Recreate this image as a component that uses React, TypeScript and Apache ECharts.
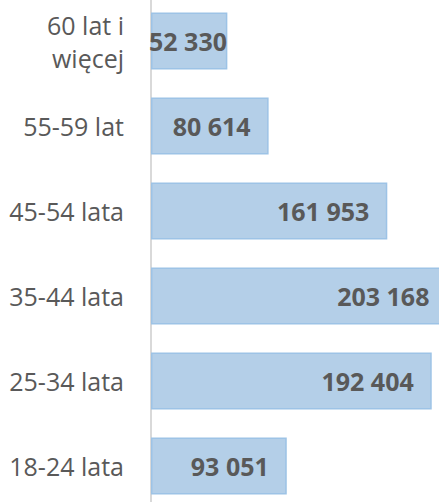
import React, { useEffect, useRef } from "react";
import * as echarts from "echarts";

const categories: string[] = [
  "60 lat i\nwięcej",
  "55-59 lat",
  "45-54 lata",
  "35-44 lata",
  "25-34 lata",
  "18-24 lata",
];
const values: number[] = [52330, 80614, 161953, 203168, 192404, 93051];

const fmt = (v: number) => String(v).replace(/\B(?=(\d{3})+(?!\d))/g, " ");

export default function App() {
  const ref = useRef<HTMLDivElement>(null);
  useEffect(() => {
    if (!ref.current) return;
    const chart = echarts.init(ref.current, undefined, { renderer: "svg" });
    const font = "'Open Sans', 'Noto Sans', sans-serif";
    chart.setOption({
      animation: false,
      grid: { left: 151, top: 8.5, height: 510, width: 306.4, containLabel: false },
      xAxis: {
        type: "value",
        min: 0,
        max: 210000,
        show: false,
        splitLine: { show: false },
      },
      yAxis: {
        type: "category",
        data: categories,
        inverse: true,
        axisTick: { show: false },
        axisLine: { show: true, lineStyle: { color: "#d9d9d9", width: 2 } },
        axisLabel: {
          fontSize: 25,
          color: "#595959",
          fontFamily: font,
          margin: 27,
          lineHeight: 33,
          align: "right",
        },
      },
      series: [
        {
          type: "bar",
          barWidth: 57,
          data: values.map((v, i) =>
            i === 0
              ? { value: v, label: { position: "insideLeft", distance: -2 } }
              : { value: v }
          ),
          itemStyle: { color: "#b4cfe8", borderColor: "#9dc3e6", borderWidth: 1.5 },
          label: {
            show: true,
            position: "insideRight",
            distance: 18,
            fontSize: 25,
            fontWeight: "bold",
            color: "#595959",
            fontFamily: font,
            formatter: (p: any) => fmt(p.value),
          },
        },
      ],
    });
    return () => chart.dispose();
  }, []);
  return (
    <div
      style={{
        position: "absolute",
        left: 0,
        top: 0,
        width: 439,
        height: 502,
        overflow: "hidden",
        background: "#fff",
      }}
    >
      <div
        ref={ref}
        style={{ position: "absolute", left: 0, top: -10, width: 480, height: 530 }}
      />
    </div>
  );
}
